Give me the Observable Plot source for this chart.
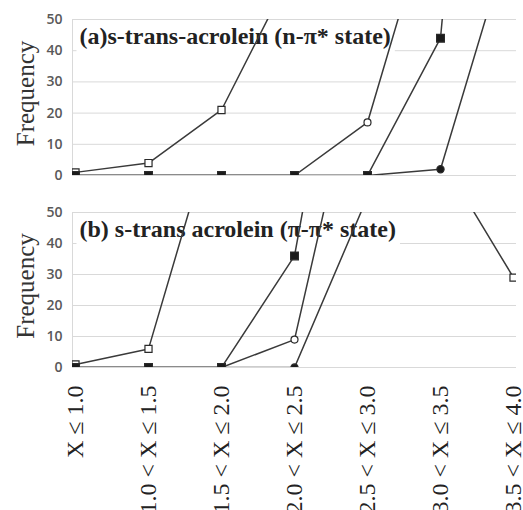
<!DOCTYPE html>
<html><head><meta charset="utf-8">
<script src="https://cdn.jsdelivr.net/npm/d3@7"></script>
<script src="https://cdn.jsdelivr.net/npm/@observablehq/plot@0.6"></script>
<style>
body{margin:0;background:#fff} svg{display:block}
g.ptitle text{font-family:"Liberation Serif","Times New Roman",serif;font-weight:bold}
</style>
</head><body><div id="chart"></div>
<script>
const categories = ["X \u2264 1.0", "1.0 < X \u2264 1.5", "1.5 < X \u2264 2.0", "2.0 < X \u2264 2.5", "2.5 < X \u2264 3.0", "3.0 < X \u2264 3.5", "3.5 < X \u2264 4.0"];
const yTicks = [0, 10, 20, 30, 40, 50];
const seriesNames = ["open square", "open circle", "filled circle", "filled square"];
const titleA = "(a)s-trans-acrolein (n-\u03c0* state)";
const titleB = "(b) s-trans acrolein (\u03c0-\u03c0* state)";
const yLabel = "Frequency";

// panel (a): values above 50 run off the top of the chart (estimated from line slopes)
const openSquareA   = [1, 4, 21, 67, null, null, null];
const openCircleA   = [0, 0, 0, 0, 17, 96, null];
const filledCircleA = [0, 0, 0, 0, 0, 2, 80];
const filledSquareA = [0, 0, 0, 0, 0, 44, 300];

// panel (b)
const openSquareB   = [1, 6, 86, null, null, 68, 29];
const openCircleB   = [0, 0, 0, 9, 112, null, null];
const filledCircleB = [0, 0, 0, 0, 55, null, null];
const filledSquareB = [0, 0, 0, 36, 165, null, null];

const styles = {
  "open square":   {symbol: "square", fill: "white", r: 4.0},
  "open circle":   {symbol: "circle", fill: "white", r: 3.5},
  "filled circle": {symbol: "circle", fill: "#1a1a1a", r: 3.6},
  "filled square": {symbol: "square", fill: "#1a1a1a", r: 4.4}
};

function makePanel(title, seriesValues, {height, marginTop, marginBottom, showX}) {
  const data = [];
  seriesNames.forEach((s, k) => seriesValues[k].forEach((v, i) => data.push({series: s, cat: categories[i], value: v})));
  const dotMarks = seriesNames.map(s => Plot.dot(data.filter(d => d.series === s && d.value != null), {
    x: "cat", y: "value", symbol: styles[s].symbol, fill: styles[s].fill, r: styles[s].r,
    stroke: "#2a2a2a", strokeWidth: 1.2, clip: true
  }));
  const marks = [
    Plot.gridY(yTicks, {stroke: "#d9d9d9", strokeOpacity: 1}),
    Plot.ruleX([categories[0]], {dx: -3, stroke: "#d9d9d9"}),
    Plot.axisY(yTicks, {tickSize: 0, tickPadding: 10, fontSize: 14, fontFamily: "Open Sans", fontWeight: 600, fill: "#595959", label: null}),
    Plot.text([title], {frameAnchor: "top-left", dx: 7, dy: 7, lineAnchor: "top", fontFamily: "Liberation Serif", fontWeight: "bold", fontSize: 24, fill: "#222", className: "ptitle"}),
    Plot.text([yLabel], {frameAnchor: "left", textAnchor: "middle", dx: -47, dy: -4, rotate: -90, fontFamily: "Liberation Serif", fontSize: 25, fill: "#333"}),
    Plot.line(data, {x: "cat", y: "value", z: "series", stroke: "#3a3a3a", strokeWidth: 1.5, clip: true}),
    ...dotMarks
  ];
  if (showX) marks.push(Plot.axisX({tickSize: 0, tickPadding: 18, tickRotate: -90, fontSize: 24, fontFamily: "Liberation Serif", fill: "#222", label: null}));
  return Plot.plot({
    width: 523, height, marginTop, marginBottom, marginLeft: 72, marginRight: 7,
    x: {type: "point", domain: categories, padding: 0.04, axis: showX ? undefined : null},
    y: {domain: [0, 50]},
    style: {background: "white", overflow: "visible"},
    marks
  });
}

const chart = document.getElementById("chart");
chart.append(makePanel(titleA, [openSquareA, openCircleA, filledCircleA, filledSquareA], {height: 190, marginTop: 19, marginBottom: 15, showX: false}));
chart.append(makePanel(titleB, [openSquareB, openCircleB, filledCircleB, filledSquareB], {height: 320, marginTop: 22, marginBottom: 143, showX: true}));

for (const g of document.querySelectorAll("g.ptitle")) {
  const b = g.getBBox();
  const rect = document.createElementNS("http://www.w3.org/2000/svg", "rect");
  rect.setAttribute("x", b.x - 3);
  rect.setAttribute("y", b.y - 1);
  rect.setAttribute("width", b.width + 7);
  rect.setAttribute("height", b.height + 8);
  rect.setAttribute("fill", "white");
  rect.setAttribute("stroke", "none");
  g.insertBefore(rect, g.firstChild);
}
</script>
</body></html>
